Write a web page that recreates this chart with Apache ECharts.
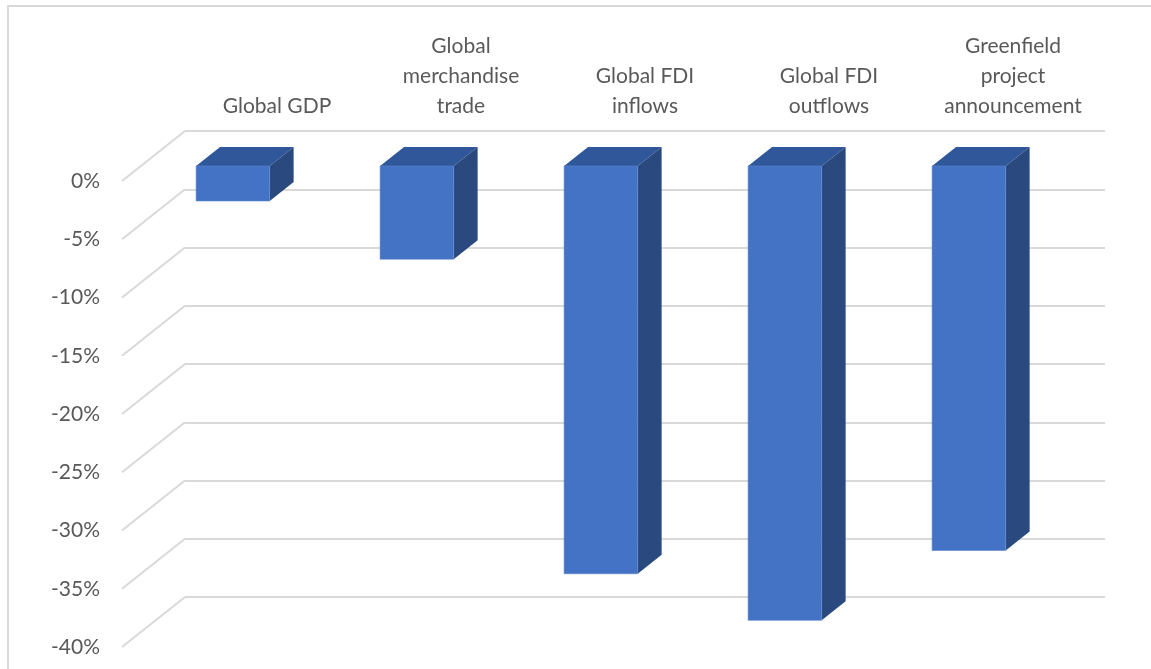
<!DOCTYPE html>
<html>
<head>
<meta charset="utf-8">
<script src="https://cdn.jsdelivr.net/npm/echarts@6/dist/echarts.min.js"></script>
<style>
html,body{margin:0;padding:0;background:#fff;}
#chart{width:1151px;height:669px;}
</style>
</head>
<body>
<div id="chart"></div>
<script>
// ---- data ----
const categoryLabels = [
  'Global GDP',
  'Global\nmerchandise\ntrade',
  'Global FDI\ninflows',
  'Global FDI\noutflows',
  'Greenfield\nproject\nannouncement'
];
const changePct = [-3, -8, -35, -39, -33];
const yTicks = [0, -5, -10, -15, -20, -25, -30, -35, -40];

// ---- 3D projection style ----
const DX = -63, DY = 50;          // back wall -> front plane offset
const FRONT = 0.7, BACK = 0.32;   // bar faces depth fractions
const BAR_RATIO = 0.4;
const FONT = 'Lato, "Open Sans", sans-serif';

const chart = echarts.init(document.getElementById('chart'));

function diagRender(params, api) {
  const c = api.coord([0, api.value(1)]);
  const x0 = params.coordSys.x;
  return {
    type: 'line',
    shape: {x1: x0, y1: c[1], x2: x0 + DX, y2: c[1] + DY},
    style: {stroke: '#d9d9d9', lineWidth: 2}
  };
}

function barRender(params, api) {
  const i = api.value(0), v = api.value(1);
  const top = api.coord([i, 0]);
  const bot = api.coord([i, v]);
  const bw = api.size([1, 0])[0] * BAR_RATIO;
  const P = (x, y, d) => [x + d * DX, y + d * DY];
  const L = top[0] - bw / 2, R = top[0] + bw / 2;
  const FTL = P(L, top[1], FRONT), FTR = P(R, top[1], FRONT);
  const FBR = P(R, bot[1], FRONT), FBL = P(L, bot[1], FRONT);
  const BTL = P(L, top[1], BACK), BTR = P(R, top[1], BACK), BBR = P(R, bot[1], BACK);
  return {
    type: 'group',
    children: [
      {type: 'polygon', shape: {points: [FTL, FTR, BTR, BTL]}, style: {fill: '#30579a'}},
      {type: 'polygon', shape: {points: [FTR, BTR, BBR, FBR]}, style: {fill: '#2a4a7f'}},
      {type: 'polygon', shape: {points: [FTL, FTR, FBR, FBL]}, style: {fill: '#4472c4', stroke: '#5a84cc', lineWidth: 0.6}}
    ]
  };
}

chart.setOption({
  animation: false,
  backgroundColor: '#fff',
  graphic: [{
    type: 'rect', z: -10,
    shape: {x: 8, y: 6, width: 1300, height: 800},
    style: {fill: 'none', stroke: '#d9d9d9', lineWidth: 2}
  }],
  grid: [
    {left: 185, right: 46, top: 131, bottom: 72},
    {left: 122, right: 109, top: 181, bottom: 22}
  ],
  xAxis: [
    {
      gridIndex: 0, type: 'category', position: 'top', data: categoryLabels,
      axisLine: {show: false}, axisTick: {show: false},
      axisLabel: {color: '#595959', fontSize: 21, fontFamily: FONT, lineHeight: 30, margin: 10, interval: 0}
    },
    {gridIndex: 1, type: 'category', data: categoryLabels, show: false}
  ],
  yAxis: [
    {
      gridIndex: 0, type: 'value', min: -40, max: 0, interval: 5,
      axisLine: {show: false}, axisTick: {show: false}, axisLabel: {show: false},
      splitLine: {lineStyle: {color: '#d9d9d9', width: 2}}
    },
    {
      gridIndex: 1, type: 'value', min: -40, max: 0, interval: 5,
      axisLine: {show: false}, axisTick: {show: false}, splitLine: {show: false},
      axisLabel: {formatter: '{value}%', color: '#595959', fontSize: 21, fontFamily: FONT, margin: 22}
    }
  ],
  series: [
    {
      type: 'custom', xAxisIndex: 0, yAxisIndex: 0, silent: true,
      renderItem: diagRender,
      data: yTicks.map(v => [0, v]), z: 1
    },
    {
      type: 'custom', xAxisIndex: 0, yAxisIndex: 0,
      renderItem: barRender,
      data: changePct.map((v, i) => [i, v]), z: 2
    }
  ]
});
</script>
</body>
</html>
